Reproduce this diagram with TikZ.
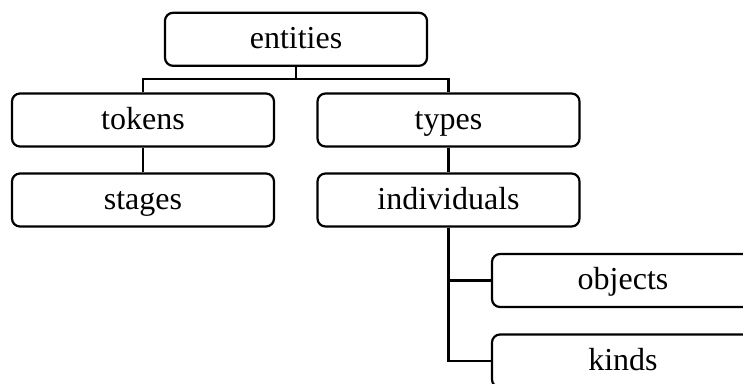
\documentclass[tikz,border=0pt]{standalone}
\usepackage{fontspec}
\setmainfont{Liberation Serif}
\begin{document}
\begin{tikzpicture}[x=1pt,y=1pt,
  box/.style={draw, line width=2.2pt, rounded corners=8pt, minimum width=262pt, minimum height=53pt, inner sep=0pt, text height=24pt, text depth=6pt, font=\fontsize{32}{38}\selectfont},
  conn/.style={line width=2.2pt}]
\useasboundingbox (0,0) rectangle (743,-383);
\node[box] (entities) at (296,-39.3) {entities};
\node[box] (tokens) at (143,-120) {tokens};
\node[box] (types) at (448.5,-120) {types};
\node[box] (stages) at (143,-200) {stages};
\node[box] (individuals) at (448.5,-200) {individuals};
\node[box] (objects) at (623,-280.5) {objects};
\node[box] (kinds) at (623,-361) {kinds};
\coordinate (j1) at (296,-79.3);
\draw[conn] (entities.south) -- (j1);
\draw[conn] (tokens.north) |- (j1) -| (types.north);
\draw[conn] (tokens.south) -- (stages.north);
\draw[conn] (types.south) -- (individuals.north);
\draw[conn] (individuals.south) |- (objects.west);
\draw[conn] (individuals.south) |- (kinds.west);
\end{tikzpicture}
\end{document}
